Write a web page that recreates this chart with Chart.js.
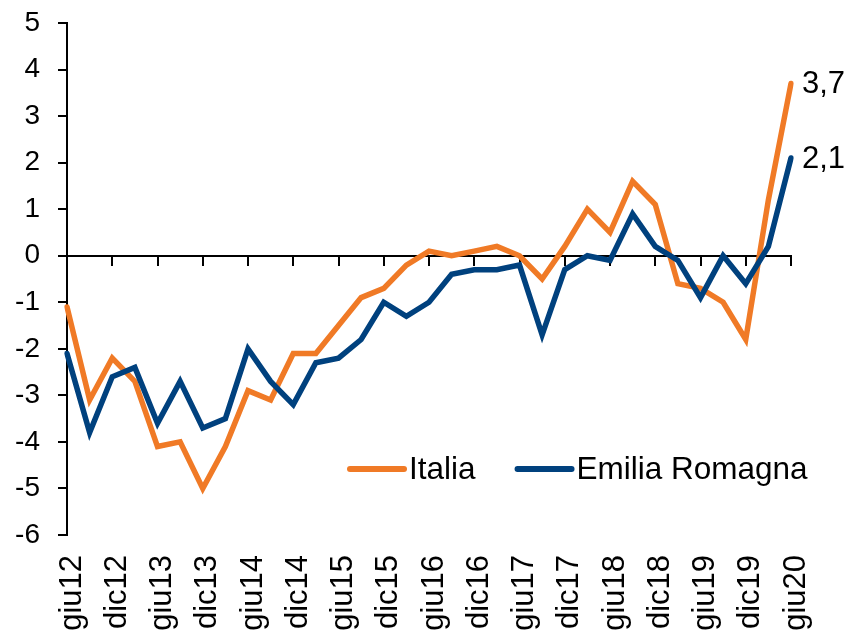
<!DOCTYPE html>
<html>
<head>
<meta charset="utf-8">
<script src="https://cdn.jsdelivr.net/npm/chart.js@4.4.0/dist/chart.umd.min.js"></script>
<style>
    html, body { margin: 0; padding: 0; background: #fff; }
    #wrap { width: 848px; height: 633px; }
</style>
</head>
<body>
<div id="wrap"><canvas id="myChart"></canvas></div>
<script>
// quarters giu12 .. giu20, only every other one gets a label
const quarters = ['giu12', 'set12', 'dic12',
    'mar13', 'giu13', 'set13', 'dic13',
    'mar14', 'giu14', 'set14', 'dic14',
    'mar15', 'giu15', 'set15', 'dic15',
    'mar16', 'giu16', 'set16', 'dic16',
    'mar17', 'giu17', 'set17', 'dic17',
    'mar18', 'giu18', 'set18', 'dic18',
    'mar19', 'giu19', 'set19', 'dic19',
    'mar20', 'giu20'];

const italia = [-1.1, -3.1, -2.2, -2.7, -4.1, -4.0, -5.0, -4.1, -2.9, -3.1, -2.1,
    -2.1, -1.5, -0.9, -0.7, -0.2, 0.1, 0.0, 0.1, 0.2, 0.0, -0.5,
    0.2, 1.0, 0.5, 1.6, 1.1, -0.6, -0.7, -1.0, -1.8, 1.2, 3.7];

const emiliaRomagna = [-2.1, -3.8, -2.6, -2.4, -3.6, -2.7, -3.7, -3.5, -2.0, -2.7, -3.2,
    -2.3, -2.2, -1.8, -1.0, -1.3, -1.0, -0.4, -0.3, -0.3, -0.2, -1.7,
    -0.3, 0.0, -0.1, 0.9, 0.2, -0.1, -0.9, 0.0, -0.6, 0.2, 2.1];

const yMin = -6;
const yMax = 5;

const fontFamily = "'Liberation Sans', Arial, sans-serif";

// value of the last point written next to it, Italian decimal comma
const endLabels = {
    id: 'endLabels',
    afterDatasetsDraw(chart) {
        const ctx = chart.ctx;
        ctx.save();
        ctx.font = '31px ' + fontFamily;
        ctx.fillStyle = '#000';
        ctx.textAlign = 'left';
        ctx.textBaseline = 'middle';
        chart.data.datasets.forEach((ds, i) => {
            const meta = chart.getDatasetMeta(i);
            const last = meta.data[meta.data.length - 1];
            const v = ds.data[ds.data.length - 1];
            ctx.fillText(v.toFixed(1).replace('.', ','), last.x + 11, last.y + 1);
        });
        ctx.restore();
    }
};

// legend sitting inside the plot, lower right
const innerLegend = {
    id: 'innerLegend',
    afterDraw(chart) {
        const ctx = chart.ctx;
        ctx.save();
        ctx.font = '31.5px ' + fontFamily;
        ctx.textBaseline = 'middle';
        ctx.textAlign = 'left';
        let x = 350;
        const y = 469;
        chart.data.datasets.forEach(ds => {
            ctx.strokeStyle = ds.borderColor;
            ctx.lineWidth = 6;
            ctx.lineCap = 'round';
            ctx.beginPath();
            ctx.moveTo(x, y);
            ctx.lineTo(x + 54, y);
            ctx.stroke();
            ctx.fillStyle = '#000';
            ctx.fillText(ds.label, x + 59, y + 1);
            x += 59 + ctx.measureText(ds.label).width + 42;
        });
        ctx.restore();
    }
};

const ctx = document.getElementById('myChart').getContext('2d');
const myChart = new Chart(ctx, {
    type: 'line',
    data: {
        labels: quarters,
        datasets: [{
            label: 'Italia',
            data: italia,
            borderColor: '#F07A26',
            borderWidth: 5.5,
            pointRadius: 0,
            tension: 0,
            borderCapStyle: 'round',
            order: 1
        },
        {
            label: 'Emilia Romagna',
            data: emiliaRomagna,
            borderColor: '#00417E',
            borderWidth: 5.5,
            pointRadius: 0,
            tension: 0,
            borderCapStyle: 'round',
            order: 0
        }]
    },
    options: {
        responsive: true,
        maintainAspectRatio: false,
        animation: false,
        layout: {
            padding: { top: 23, right: 57, bottom: 0, left: 0 }
        },
        plugins: {
            legend: { display: false },
            tooltip: { enabled: false }
        },
        scales: {
            x: {
                type: 'category',
                offset: false,
                border: { display: false },
                grid: { display: false },
                ticks: {
                    autoSkip: false,
                    minRotation: 90,
                    maxRotation: 90,
                    padding: 12,
                    labelOffset: 5,
                    color: '#000',
                    font: { family: fontFamily, size: 31 },
                    callback: function (value, index) {
                        return index % 2 === 0 ? this.getLabelForValue(value) : '';
                    }
                },
                afterFit: function (scale) {
                    scale.height = 98;
                    scale.paddingLeft = 0;
                    scale.paddingRight = 0;
                }
            },
            // axis line at zero with its tick marks
            zero: {
                type: 'category',
                axis: 'x',
                position: { y: 0 },
                offset: false,
                border: { display: true, color: '#000', width: 2 },
                grid: {
                    display: true,
                    drawOnChartArea: false,
                    drawTicks: true,
                    tickLength: 9,
                    lineWidth: 2,
                    color: function (c) {
                        return c.index % 2 === 0 ? '#000' : 'rgba(0,0,0,0)';
                    }
                },
                ticks: { display: false, autoSkip: false }
            },
            y: {
                min: yMin,
                max: yMax,
                border: { display: true, color: '#000', width: 2 },
                grid: {
                    drawOnChartArea: false,
                    tickLength: 9,
                    lineWidth: 2,
                    color: '#000'
                },
                ticks: {
                    stepSize: 1,
                    padding: 18,
                    color: '#000',
                    font: { family: fontFamily, size: 28 }
                },
                afterFit: function (scale) {
                    scale.width = 67;
                    scale.paddingTop = 0;
                    scale.paddingBottom = 0;
                }
            }
        }
    },
    plugins: [endLabels, innerLegend]
});
</script>
</body>
</html>
